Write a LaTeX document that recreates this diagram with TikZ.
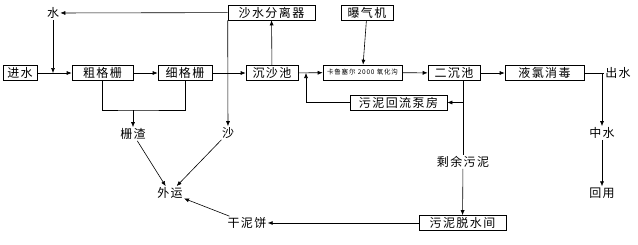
\documentclass[tikz,border=0pt]{standalone}
\usepackage{fontspec}
\setmainfont[LetterSpace=12]{Noto Sans CJK SC}
\usetikzlibrary{arrows.meta,positioning}

\begin{document}
\begin{tikzpicture}[x=1pt,y=-1pt,>={Latex[length=5pt,width=4pt]},line width=0.6pt,
 font=\fontsize{12}{14}\selectfont,
 box/.style={draw,minimum height=15pt,inner sep=0pt},
 lbl/.style={inner sep=1pt}]
\useasboundingbox (0,0) rectangle (638,244);
% boxes of the main line
\node[box,minimum width=34pt] (jin) at (20,73) {进水};
\node[box,minimum width=61pt] (cu) at (102.5,73) {粗格栅};
\node[box,minimum width=54pt] (xi) at (185,73) {细格栅};
\node[box,minimum width=52pt] (chen) at (272,73) {沉沙池};
\node[box,minimum width=79pt,font=\fontsize{6.5}{8}\selectfont] (ox) at (362.5,72.5) {卡鲁塞尔 2000 氧化沟};
\node[box,minimum width=52pt] (er) at (454,73) {二沉池};
\node[box,minimum width=79pt] (ye) at (544.5,73) {液氯消毒};
% boxes above and below
\node[box,minimum width=87pt] (sep) at (271.5,12.5) {沙水分离器};
\node[box,minimum width=52pt] (bao) at (367,12.5) {曝气机};
\node[box,minimum width=97pt] (hui) at (398.5,102.5) {污泥回流泵房};
\node[box,minimum width=87pt] (tuo) at (462.5,223) {污泥脱水间};
% plain labels
\node[lbl] (shui) at (53,13) {水};
\node[lbl,anchor=west] (chu) at (604,73) {出水};
\node[lbl] (zhong) at (602,133) {中水};
\node[lbl] (yong) at (602,193) {回用};
\node[lbl] (zha) at (133,134) {栅渣};
\node[lbl] (sha) at (228,133) {沙};
\node[lbl] (wai) at (170,193) {外运};
\node[lbl] (gan) at (247,223) {干泥饼};
\node[lbl] (sheng) at (463,162) {剩余污泥};
% junction points
\coordinate (jw) at (53,73);
\coordinate (zz) at (133,110);
\coordinate (ec) at (463,80);
\coordinate (rt) at (306,73);
\coordinate (ch) at (602,73);

\foreach \a/\b in {jin/cu,cu/xi,xi/chen,chen/ox,ox/er,er/ye}
  \draw[->] (\a) -- (\b);
\draw[->] (chen) -- (sep);
\draw[->] (sep) -- (shui);
\draw[->] (shui) -- (jw);
\draw[->] (sep.south west) -- (sha);
\draw (cu.south) |- (zz) -| (xi.south);
\draw[->] (zz) -- (zha);
\draw[->] (zha) -- (wai);
\draw[->] (sha) -- (wai);
\draw[->] (gan) -- (wai);
\draw[->] (bao) -- (ox);
\draw (ye) -- (chu);
\draw[->] (ch) -- (zhong);
\draw[->] (zhong) -- (yong);
\draw[->] (ec) |- (hui);
\draw[->] (hui) -| (rt);
\draw (ec) -- (sheng);
\draw[->] (sheng) -- (tuo);
\draw[->] (tuo) -- (gan);
\end{tikzpicture}
\end{document}
